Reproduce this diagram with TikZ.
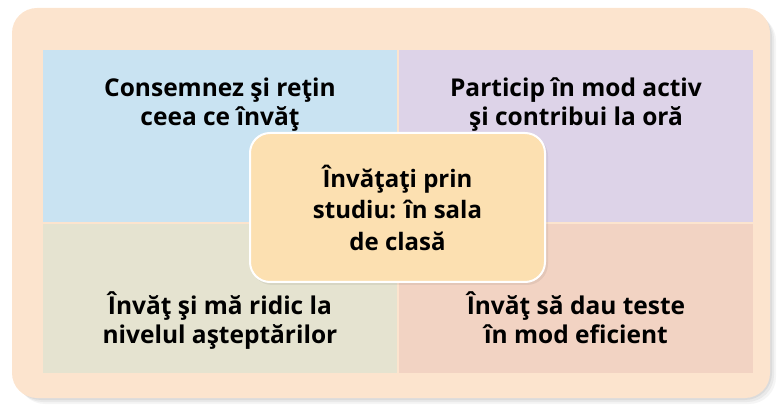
\documentclass[tikz,border=0pt]{standalone}
\usepackage{fontspec}
\setmainfont{Open Sans}
\usetikzlibrary{positioning}

\definecolor{framefill}{HTML}{FCE4CE}
\definecolor{blueq}{HTML}{C9E3F2}
\definecolor{violetq}{HTML}{DDD3E8}
\definecolor{oliveq}{HTML}{E5E3D0}
\definecolor{pinkq}{HTML}{F2D3C3}
\definecolor{corefill}{HTML}{FCE0B1}

\tikzset{
  quadtext/.style={align=center, anchor=base, inner sep=0pt,
    font=\bfseries\fontsize{24.5}{28.5}\selectfont},
  core/.style={draw=white, line width=2pt, fill=corefill, rounded corners=20pt,
    minimum width=295pt, minimum height=149pt, align=center,
    font=\bfseries\fontsize{24}{31.5}\selectfont}
}

\begin{document}
\begin{tikzpicture}[x=1pt,y=-1pt]
  \useasboundingbox (0,0) rectangle (777,406);
  % soft shadow of the frame
  \foreach \s/\o in {6/0.04,4/0.05,2/0.06}
  \fill[black, opacity=\o, rounded corners=27pt]
    (12+\s,8+\s) rectangle (770+\s,398+\s);
  \fill[framefill, rounded corners=25pt] (12,8) rectangle (770,398);

  % the four fields
  \fill[blueq]   (43,50)   rectangle (397,222);
  \fill[violetq] (399,50)  rectangle (753,222);
  \fill[oliveq]  (43,224)  rectangle (397,373);
  \fill[pinkq]   (399,224) rectangle (753,373);

  \node[quadtext] (tl) at (220,125.5) {Consemnez şi reţin\\ceea ce învăţ};
  \node[quadtext] (tr) at (576,125.5) {Particip în mod activ\\şi contribui la oră};
  \node[quadtext] (bl) at (220,343.5) {Învăţ şi mă ridic la\\nivelul aşteptărilor};
  \node[quadtext] (br) at (576,343.5) {Învăţ să dau teste\\în mod eficient};

  % centre
  \fill[black, opacity=0.06, rounded corners=21pt] (251,135) rectangle (548,285);
  \node[core] (mid) at (397.5,207.5) {Învăţaţi prin\\studiu: în sala\\de clasă};
\end{tikzpicture}
\end{document}
